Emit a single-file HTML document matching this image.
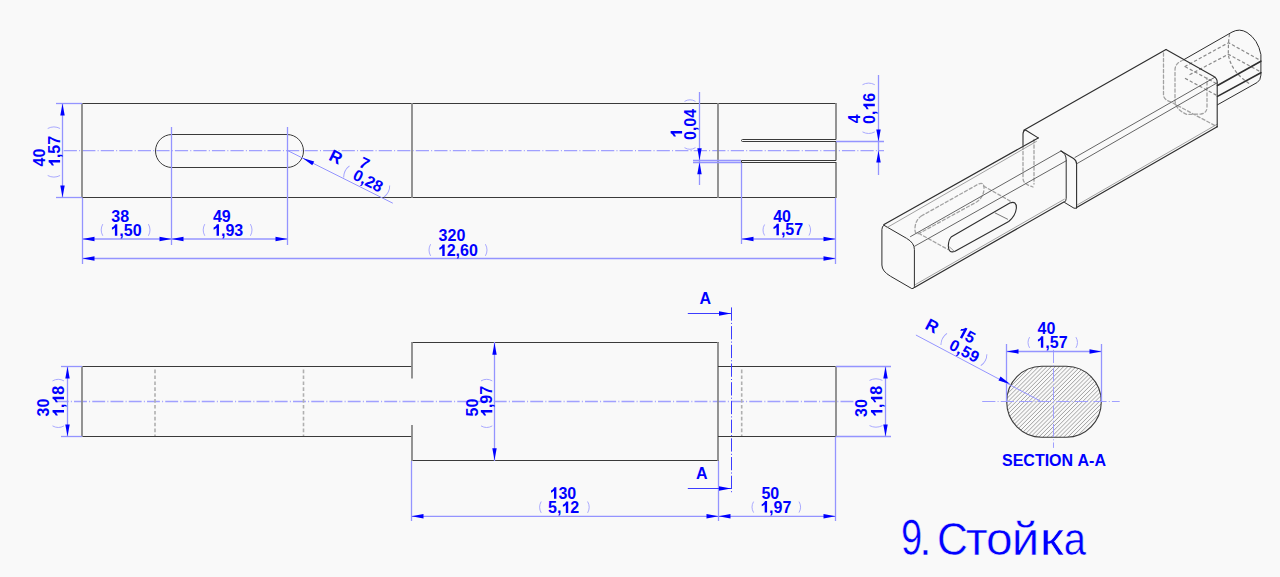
<!DOCTYPE html>
<html><head><meta charset="utf-8"><title>Стойка</title>
<style>
html,body{margin:0;padding:0;background:#f9f9f9;}
body{width:1280px;height:577px;overflow:hidden;}
svg{display:block;font-family:"Liberation Sans",sans-serif;font-kerning:none;}
</style></head>
<body>
<svg width="1280" height="577" viewBox="0 0 1280 577">
<rect width="1280" height="577" fill="#f9f9f9"/>
<line x1="63.7" y1="150.6" x2="884" y2="150.6" stroke="#a0a0ff" stroke-width="1.35" stroke-dasharray="13.2 2.2 1 2.13"/>
<line x1="82" y1="103.5" x2="836" y2="103.5" stroke="#3a3a3a" stroke-width="1" />
<line x1="82" y1="197.5" x2="836" y2="197.5" stroke="#3a3a3a" stroke-width="1" />
<line x1="82" y1="103" x2="82" y2="198" stroke="#888888" stroke-width="1.8" />
<line x1="836" y1="103" x2="836" y2="139.5" stroke="#888888" stroke-width="1.8" />
<line x1="836" y1="141" x2="836" y2="160.5" stroke="#888888" stroke-width="1.8" />
<line x1="836" y1="162" x2="836" y2="198" stroke="#888888" stroke-width="1.8" />
<line x1="412" y1="103" x2="412" y2="198" stroke="#888888" stroke-width="1.8" />
<line x1="718" y1="103" x2="718" y2="198" stroke="#888888" stroke-width="1.8" />
<rect x="155.5" y="134.5" width="148" height="33" rx="16.5" fill="none" stroke="#3a3a3a" stroke-width="1"/>
<path d="M836,139.5 L742.5,139.5 A1,1 0 0 0 742.5,141.5 L836,141.5" fill="none" stroke="#3a3a3a" stroke-width="1"/>
<path d="M836,160.5 L741.5,160.5 L741.5,162.5 L836,162.5" fill="none" stroke="#3a3a3a" stroke-width="1"/>
<line x1="56" y1="103.5" x2="82" y2="103.5" stroke="#9494ff" stroke-width="1.3" />
<line x1="56" y1="197.5" x2="82" y2="197.5" stroke="#9494ff" stroke-width="1.3" />
<line x1="62.5" y1="103" x2="62.5" y2="198" stroke="#9494ff" stroke-width="1.3" />
<polygon points="62.50,103.50 64.70,115.50 60.30,115.50" fill="#0000ff"/>
<polygon points="62.50,197.50 60.30,185.50 64.70,185.50" fill="#0000ff"/>
<line x1="82.5" y1="198" x2="82.5" y2="264" stroke="#9494ff" stroke-width="1.3" />
<line x1="171.5" y1="127" x2="171.5" y2="245" stroke="#9494ff" stroke-width="1.3" />
<line x1="287.5" y1="127" x2="287.5" y2="245" stroke="#9494ff" stroke-width="1.3" />
<line x1="741.5" y1="163" x2="741.5" y2="244" stroke="#9494ff" stroke-width="1.3" />
<line x1="835.5" y1="198" x2="835.5" y2="264" stroke="#9494ff" stroke-width="1.3" />
<line x1="82" y1="239.0" x2="288" y2="239.0" stroke="#9494ff" stroke-width="1.3" />
<line x1="741" y1="239.0" x2="836" y2="239.0" stroke="#9494ff" stroke-width="1.3" />
<line x1="82" y1="258.5" x2="836" y2="258.5" stroke="#9494ff" stroke-width="1.3" />
<polygon points="82.50,239.00 94.50,236.80 94.50,241.20" fill="#0000ff"/>
<polygon points="171.50,239.00 159.50,241.20 159.50,236.80" fill="#0000ff"/>
<polygon points="171.50,239.00 183.50,236.80 183.50,241.20" fill="#0000ff"/>
<polygon points="287.50,239.00 275.50,241.20 275.50,236.80" fill="#0000ff"/>
<polygon points="741.50,239.00 753.50,236.80 753.50,241.20" fill="#0000ff"/>
<polygon points="835.50,239.00 823.50,241.20 823.50,236.80" fill="#0000ff"/>
<polygon points="82.50,258.50 94.50,256.30 94.50,260.70" fill="#0000ff"/>
<polygon points="835.50,258.50 823.50,260.70 823.50,256.30" fill="#0000ff"/>
<line x1="699.5" y1="92" x2="699.5" y2="185" stroke="#9494ff" stroke-width="1.3" />
<line x1="693" y1="160.5" x2="741" y2="160.5" stroke="#9494ff" stroke-width="1.3" />
<line x1="693" y1="162.5" x2="741" y2="162.5" stroke="#9494ff" stroke-width="1.3" />
<polygon points="699.50,160.20 697.30,148.20 701.70,148.20" fill="#0000ff"/>
<polygon points="699.50,162.30 701.70,174.30 697.30,174.30" fill="#0000ff"/>
<line x1="878.5" y1="75" x2="878.5" y2="175" stroke="#9494ff" stroke-width="1.3" />
<line x1="836" y1="141.5" x2="884" y2="141.5" stroke="#9494ff" stroke-width="1.3" />
<polygon points="878.50,141.50 876.30,129.50 880.70,129.50" fill="#0000ff"/>
<polygon points="878.50,150.60 880.70,162.60 876.30,162.60" fill="#0000ff"/>
<line x1="287.7" y1="150.6" x2="392.8" y2="203.2" stroke="#9494ff" stroke-width="1" />
<polygon points="302.50,158.00 314.22,161.40 312.25,165.33" fill="#0000ff"/>
<text x="111.3" y="221.6" font-size="16" font-weight="bold" fill="#0000ff" >38</text>
<g transform="translate(110.4,235.8)"><path transform="translate(0.000,0) scale(16)" d="M0.43,-0.716 L0.43,0 L0.28,0 L0.28,-0.50 C0.22,-0.445 0.15,-0.405 0.095,-0.385 L0.095,-0.515 C0.19,-0.555 0.265,-0.63 0.30,-0.716 Z" fill="#0000ff"/><text x="8.896" y="0" font-size="16" font-weight="bold" fill="#0000ff">,50</text></g>
<path d="M102.8,224.1 Q99.60000000000001,229.95 102.8,235.8" fill="none" stroke="#a0a0ff" stroke-width="0.9"/>
<path d="M148.4,224.1 Q151.6,229.95 148.4,235.8" fill="none" stroke="#a0a0ff" stroke-width="0.9"/>
<text x="212.9" y="221.6" font-size="16" font-weight="bold" fill="#0000ff" >49</text>
<g transform="translate(212.1,235.8)"><path transform="translate(0.000,0) scale(16)" d="M0.43,-0.716 L0.43,0 L0.28,0 L0.28,-0.50 C0.22,-0.445 0.15,-0.405 0.095,-0.385 L0.095,-0.515 C0.19,-0.555 0.265,-0.63 0.30,-0.716 Z" fill="#0000ff"/><text x="8.896" y="0" font-size="16" font-weight="bold" fill="#0000ff">,93</text></g>
<path d="M204.79999999999998,224.1 Q201.6,229.95 204.79999999999998,235.8" fill="none" stroke="#a0a0ff" stroke-width="0.9"/>
<path d="M250.4,224.1 Q253.6,229.95 250.4,235.8" fill="none" stroke="#a0a0ff" stroke-width="0.9"/>
<text x="438.6" y="241.4" font-size="16" font-weight="bold" fill="#0000ff" >320</text>
<g transform="translate(437.8,255.9)"><path transform="translate(0.000,0) scale(16)" d="M0.43,-0.716 L0.43,0 L0.28,0 L0.28,-0.50 C0.22,-0.445 0.15,-0.405 0.095,-0.385 L0.095,-0.515 C0.19,-0.555 0.265,-0.63 0.30,-0.716 Z" fill="#0000ff"/><text x="8.896" y="0" font-size="16" font-weight="bold" fill="#0000ff">2,60</text></g>
<path d="M430.6,244.2 Q427.4,250.05 430.6,255.9" fill="none" stroke="#a0a0ff" stroke-width="0.9"/>
<path d="M485.4,244.2 Q488.59999999999997,250.05 485.4,255.9" fill="none" stroke="#a0a0ff" stroke-width="0.9"/>
<text x="773.2" y="222" font-size="16" font-weight="bold" fill="#0000ff" >40</text>
<g transform="translate(772.0,235.2)"><path transform="translate(0.000,0) scale(16)" d="M0.43,-0.716 L0.43,0 L0.28,0 L0.28,-0.50 C0.22,-0.445 0.15,-0.405 0.095,-0.385 L0.095,-0.515 C0.19,-0.555 0.265,-0.63 0.30,-0.716 Z" fill="#0000ff"/><text x="8.896" y="0" font-size="16" font-weight="bold" fill="#0000ff">,57</text></g>
<path d="M764.6,224.5 Q761.4,230.0 764.6,235.5" fill="none" stroke="#a0a0ff" stroke-width="0.9"/>
<path d="M809.0,224.5 Q812.2,230.0 809.0,235.5" fill="none" stroke="#a0a0ff" stroke-width="0.9"/>
<text transform="translate(45.1,166.5) rotate(-90)" font-size="16" font-weight="bold" fill="#0000ff" >40</text>
<g transform="translate(60.1,167.0) rotate(-90)"><path transform="translate(0.000,0) scale(16)" d="M0.43,-0.716 L0.43,0 L0.28,0 L0.28,-0.50 C0.22,-0.445 0.15,-0.405 0.095,-0.385 L0.095,-0.515 C0.19,-0.555 0.265,-0.63 0.30,-0.716 Z" fill="#0000ff"/><text x="8.896" y="0" font-size="16" font-weight="bold" fill="#0000ff">,57</text></g>
<path d="M47.7,175.5 Q53.900000000000006,178.7 60.1,175.5" fill="none" stroke="#a0a0ff" stroke-width="0.9"/>
<path d="M47.7,128.5 Q53.900000000000006,125.3 60.1,128.5" fill="none" stroke="#a0a0ff" stroke-width="0.9"/>
<g transform="translate(682.1,138.0) rotate(-90)"><path transform="translate(0.000,0) scale(16)" d="M0.43,-0.716 L0.43,0 L0.28,0 L0.28,-0.50 C0.22,-0.445 0.15,-0.405 0.095,-0.385 L0.095,-0.515 C0.19,-0.555 0.265,-0.63 0.30,-0.716 Z" fill="#0000ff"/></g>
<text transform="translate(695.5,140.0) rotate(-90)" font-size="16" font-weight="bold" fill="#0000ff" >0,04</text>
<path d="M684.5,147.70000000000002 Q690.0,150.9 695.5,147.70000000000002" fill="none" stroke="#a0a0ff" stroke-width="0.9"/>
<path d="M684.5,101.4 Q690.0,98.2 695.5,101.4" fill="none" stroke="#a0a0ff" stroke-width="0.9"/>
<text transform="translate(860.2,123.2) rotate(-90)" font-size="16" font-weight="bold" fill="#0000ff" >4</text>
<g transform="translate(874.8,124.0) rotate(-90)"><text x="0.000" y="0" font-size="16" font-weight="bold" fill="#0000ff">0,</text><path transform="translate(13.344,0) scale(16)" d="M0.43,-0.716 L0.43,0 L0.28,0 L0.28,-0.50 C0.22,-0.445 0.15,-0.405 0.095,-0.385 L0.095,-0.515 C0.19,-0.555 0.265,-0.63 0.30,-0.716 Z" fill="#0000ff"/><text x="22.240" y="0" font-size="16" font-weight="bold" fill="#0000ff">6</text></g>
<path d="M862.5,131.9 Q868.65,135.1 874.8,131.9" fill="none" stroke="#a0a0ff" stroke-width="0.9"/>
<path d="M862.5,84.7 Q868.65,81.5 874.8,84.7" fill="none" stroke="#a0a0ff" stroke-width="0.9"/>
<text transform="translate(327.7,159.4) rotate(26.6)" font-size="17" font-weight="bold" fill="#0000ff" >R</text>
<text transform="translate(358.0,166.2) rotate(26.6)" font-size="16" font-weight="bold" fill="#0000ff" >7</text>
<text transform="translate(351.7,178.8) rotate(26.6)" font-size="16" font-weight="bold" fill="#0000ff" >0,28</text>
<path transform="translate(345.4,171.0) rotate(26.6)" d="M1.3,-6.5 Q-1.9,0 1.3,6.5" fill="none" stroke="#a0a0ff" stroke-width="0.9"/>
<path transform="translate(388.0,192.0) rotate(26.6)" d="M-1.3,-6.5 Q1.9,0 -1.3,6.5" fill="none" stroke="#a0a0ff" stroke-width="0.9"/>
<line x1="55.75" y1="401.5" x2="857.4" y2="401.5" stroke="#a0a0ff" stroke-width="1.35" stroke-dasharray="12.9 2.2 1 2.15"/>
<line x1="82" y1="366.5" x2="412" y2="366.5" stroke="#3a3a3a" stroke-width="1" />
<line x1="82" y1="436.5" x2="412" y2="436.5" stroke="#3a3a3a" stroke-width="1" />
<line x1="82" y1="366" x2="82" y2="437" stroke="#888888" stroke-width="1.8" />
<line x1="412" y1="342.5" x2="719" y2="342.5" stroke="#3a3a3a" stroke-width="1" />
<line x1="412" y1="460.5" x2="719" y2="460.5" stroke="#3a3a3a" stroke-width="1" />
<line x1="412" y1="342" x2="412" y2="378.5" stroke="#888888" stroke-width="1.8" />
<line x1="412" y1="425" x2="412" y2="461" stroke="#888888" stroke-width="1.8" />
<line x1="718" y1="342" x2="718" y2="461" stroke="#888888" stroke-width="1.8" />
<line x1="718" y1="366.5" x2="836" y2="366.5" stroke="#3a3a3a" stroke-width="1" />
<line x1="718" y1="436.5" x2="836" y2="436.5" stroke="#3a3a3a" stroke-width="1" />
<line x1="836" y1="366" x2="836" y2="437" stroke="#888888" stroke-width="1.8" />
<line x1="155.0" y1="369.6" x2="155.0" y2="436" stroke="#b0b0b0" stroke-width="1.6" stroke-dasharray="3.6 2.3"/>
<line x1="303.5" y1="369.6" x2="303.5" y2="436" stroke="#b0b0b0" stroke-width="1.6" stroke-dasharray="3.6 2.3"/>
<line x1="741.7" y1="369.6" x2="741.7" y2="436" stroke="#b0b0b0" stroke-width="1.6" stroke-dasharray="3.6 2.3"/>
<line x1="61" y1="366.5" x2="82" y2="366.5" stroke="#9494ff" stroke-width="1.3" />
<line x1="61" y1="436.5" x2="82" y2="436.5" stroke="#9494ff" stroke-width="1.3" />
<line x1="67.5" y1="366" x2="67.5" y2="437" stroke="#9494ff" stroke-width="1.3" />
<polygon points="67.50,366.50 69.70,378.50 65.30,378.50" fill="#0000ff"/>
<polygon points="67.50,436.50 65.30,424.50 69.70,424.50" fill="#0000ff"/>
<line x1="494.5" y1="342" x2="494.5" y2="461" stroke="#9494ff" stroke-width="1.3" />
<polygon points="494.50,342.80 496.70,354.80 492.30,354.80" fill="#0000ff"/>
<polygon points="494.50,460.30 492.30,448.30 496.70,448.30" fill="#0000ff"/>
<line x1="836" y1="366.5" x2="891" y2="366.5" stroke="#9494ff" stroke-width="1.3" />
<line x1="836" y1="436.5" x2="891" y2="436.5" stroke="#9494ff" stroke-width="1.3" />
<line x1="885.5" y1="366" x2="885.5" y2="437" stroke="#9494ff" stroke-width="1.3" />
<polygon points="885.50,366.50 887.70,378.50 883.30,378.50" fill="#0000ff"/>
<polygon points="885.50,436.50 883.30,424.50 887.70,424.50" fill="#0000ff"/>
<line x1="411.5" y1="461" x2="411.5" y2="521" stroke="#9494ff" stroke-width="1.3" />
<line x1="718.5" y1="461" x2="718.5" y2="521" stroke="#9494ff" stroke-width="1.3" />
<line x1="835.5" y1="437" x2="835.5" y2="521" stroke="#9494ff" stroke-width="1.3" />
<line x1="412" y1="516.3" x2="836" y2="516.3" stroke="#9494ff" stroke-width="1.3" />
<polygon points="411.50,516.30 423.50,514.10 423.50,518.50" fill="#0000ff"/>
<polygon points="718.50,516.30 706.50,518.50 706.50,514.10" fill="#0000ff"/>
<polygon points="718.50,516.30 730.50,514.10 730.50,518.50" fill="#0000ff"/>
<polygon points="835.50,516.30 823.50,518.50 823.50,514.10" fill="#0000ff"/>
<line x1="731.5" y1="307.4" x2="731.5" y2="494" stroke="#3c3cff" stroke-width="1" stroke-dasharray="13.3 2.2 1 2.2"/>
<line x1="687.8" y1="313.5" x2="731" y2="313.5" stroke="#3c3cff" stroke-width="1" />
<polygon points="731.00,313.50 719.00,315.70 719.00,311.30" fill="#0000ff"/>
<line x1="687.8" y1="488.5" x2="731" y2="488.5" stroke="#3c3cff" stroke-width="1" />
<polygon points="731.00,488.50 719.00,490.70 719.00,486.30" fill="#0000ff"/>
<text x="699.6" y="303.7" font-size="16" font-weight="bold" fill="#0000ff" >A</text>
<text x="696.0" y="478.7" font-size="16" font-weight="bold" fill="#0000ff" >A</text>
<g transform="translate(549.5,498.8)"><path transform="translate(0.000,0) scale(16)" d="M0.43,-0.716 L0.43,0 L0.28,0 L0.28,-0.50 C0.22,-0.445 0.15,-0.405 0.095,-0.385 L0.095,-0.515 C0.19,-0.555 0.265,-0.63 0.30,-0.716 Z" fill="#0000ff"/><text x="8.896" y="0" font-size="16" font-weight="bold" fill="#0000ff">30</text></g>
<g transform="translate(548.0,512.9)"><text x="0.000" y="0" font-size="16" font-weight="bold" fill="#0000ff">5,</text><path transform="translate(13.344,0) scale(16)" d="M0.43,-0.716 L0.43,0 L0.28,0 L0.28,-0.50 C0.22,-0.445 0.15,-0.405 0.095,-0.385 L0.095,-0.515 C0.19,-0.555 0.265,-0.63 0.30,-0.716 Z" fill="#0000ff"/><text x="22.240" y="0" font-size="16" font-weight="bold" fill="#0000ff">2</text></g>
<path d="M541.2,501.5 Q538.0,507.2 541.2,512.9" fill="none" stroke="#a0a0ff" stroke-width="0.9"/>
<path d="M587.6,501.5 Q590.8000000000001,507.2 587.6,512.9" fill="none" stroke="#a0a0ff" stroke-width="0.9"/>
<text x="761.4" y="498.5" font-size="16" font-weight="bold" fill="#0000ff" >50</text>
<g transform="translate(760.2,512.5)"><path transform="translate(0.000,0) scale(16)" d="M0.43,-0.716 L0.43,0 L0.28,0 L0.28,-0.50 C0.22,-0.445 0.15,-0.405 0.095,-0.385 L0.095,-0.515 C0.19,-0.555 0.265,-0.63 0.30,-0.716 Z" fill="#0000ff"/><text x="8.896" y="0" font-size="16" font-weight="bold" fill="#0000ff">,97</text></g>
<path d="M753.6,501.6 Q750.4,507.1 753.6,512.6" fill="none" stroke="#a0a0ff" stroke-width="0.9"/>
<path d="M799.0,501.6 Q802.2,507.1 799.0,512.6" fill="none" stroke="#a0a0ff" stroke-width="0.9"/>
<text transform="translate(49.4,416.5) rotate(-90)" font-size="16" font-weight="bold" fill="#0000ff" >30</text>
<g transform="translate(64.0,417.0) rotate(-90)"><path transform="translate(0.000,0) scale(16)" d="M0.43,-0.716 L0.43,0 L0.28,0 L0.28,-0.50 C0.22,-0.445 0.15,-0.405 0.095,-0.385 L0.095,-0.515 C0.19,-0.555 0.265,-0.63 0.30,-0.716 Z" fill="#0000ff"/><text x="8.896" y="0" font-size="16" font-weight="bold" fill="#0000ff">,</text><path transform="translate(13.344,0) scale(16)" d="M0.43,-0.716 L0.43,0 L0.28,0 L0.28,-0.50 C0.22,-0.445 0.15,-0.405 0.095,-0.385 L0.095,-0.515 C0.19,-0.555 0.265,-0.63 0.30,-0.716 Z" fill="#0000ff"/><text x="22.240" y="0" font-size="16" font-weight="bold" fill="#0000ff">8</text></g>
<path d="M52.5,425.9 Q58.25,429.1 64.0,425.9" fill="none" stroke="#a0a0ff" stroke-width="0.9"/>
<path d="M52.5,380.9 Q58.25,377.7 64.0,380.9" fill="none" stroke="#a0a0ff" stroke-width="0.9"/>
<text transform="translate(477.8,416.5) rotate(-90)" font-size="16" font-weight="bold" fill="#0000ff" >50</text>
<g transform="translate(492.3,417.0) rotate(-90)"><path transform="translate(0.000,0) scale(16)" d="M0.43,-0.716 L0.43,0 L0.28,0 L0.28,-0.50 C0.22,-0.445 0.15,-0.405 0.095,-0.385 L0.095,-0.515 C0.19,-0.555 0.265,-0.63 0.30,-0.716 Z" fill="#0000ff"/><text x="8.896" y="0" font-size="16" font-weight="bold" fill="#0000ff">,97</text></g>
<path d="M481.0,425.9 Q486.65,429.1 492.3,425.9" fill="none" stroke="#a0a0ff" stroke-width="0.9"/>
<path d="M481.0,380.9 Q486.65,377.7 492.3,380.9" fill="none" stroke="#a0a0ff" stroke-width="0.9"/>
<text transform="translate(866.8,416.9) rotate(-90)" font-size="16" font-weight="bold" fill="#0000ff" >30</text>
<g transform="translate(882.4,417.0) rotate(-90)"><path transform="translate(0.000,0) scale(16)" d="M0.43,-0.716 L0.43,0 L0.28,0 L0.28,-0.50 C0.22,-0.445 0.15,-0.405 0.095,-0.385 L0.095,-0.515 C0.19,-0.555 0.265,-0.63 0.30,-0.716 Z" fill="#0000ff"/><text x="8.896" y="0" font-size="16" font-weight="bold" fill="#0000ff">,</text><path transform="translate(13.344,0) scale(16)" d="M0.43,-0.716 L0.43,0 L0.28,0 L0.28,-0.50 C0.22,-0.445 0.15,-0.405 0.095,-0.385 L0.095,-0.515 C0.19,-0.555 0.265,-0.63 0.30,-0.716 Z" fill="#0000ff"/><text x="22.240" y="0" font-size="16" font-weight="bold" fill="#0000ff">8</text></g>
<path d="M869.5,425.59999999999997 Q875.95,428.8 882.4,425.59999999999997" fill="none" stroke="#a0a0ff" stroke-width="0.9"/>
<path d="M869.5,380.4 Q875.95,377.2 882.4,380.4" fill="none" stroke="#a0a0ff" stroke-width="0.9"/>
<path d="M921.3,216 L978.4,184.1 Q984.5,181.5 984,189 Q983.5,197 977,201.8 L919,233.5 Q914.5,235 915,228 Q915.5,220 921.3,216 Z" fill="none" stroke="#a2a2a2" stroke-width="1.3" stroke-linejoin="round" stroke-linecap="round" stroke-dasharray="3.2 2.3"/>
<path d="M918.7,233.3 L948.5,249.8" fill="none" stroke="#a2a2a2" stroke-width="1.3" stroke-linejoin="round" stroke-linecap="round" stroke-dasharray="3.2 2.3"/>
<path d="M983.5,186 L1011,201.5" fill="none" stroke="#a2a2a2" stroke-width="1.3" stroke-linejoin="round" stroke-linecap="round" stroke-dasharray="3.2 2.3"/>
<path d="M1023,146 L1023,178 Q1023,183 1029,185.5 L1033,187" fill="none" stroke="#a2a2a2" stroke-width="1.3" stroke-linejoin="round" stroke-linecap="round" stroke-dasharray="3.2 2.3"/>
<path d="M1034,139.5 L1034,184" fill="none" stroke="#a2a2a2" stroke-width="1.3" stroke-linejoin="round" stroke-linecap="round" stroke-dasharray="3.2 2.3"/>
<path d="M1163.5,53 L1163.5,95 Q1164,100 1171,102 L1217,126.7" fill="none" stroke="#a2a2a2" stroke-width="1.3" stroke-linejoin="round" stroke-linecap="round" stroke-dasharray="3.2 2.3"/>
<path d="M1183.5,60 Q1175,63 1175,70 L1175,101 Q1176,110 1187,114.5 L1201,114 Q1207,113 1207,107 L1207,78" fill="none" stroke="#a2a2a2" stroke-width="1.3" stroke-linejoin="round" stroke-linecap="round" stroke-dasharray="3.2 2.3"/>
<path d="M1185,66.5 L1228.5,42.7 L1260,60.2" fill="none" stroke="#8a8a8a" stroke-width="1.2" stroke-linejoin="round" stroke-linecap="round" stroke-dasharray="2.4 3"/>
<path d="M1190,74.5 L1228.3,54.3 L1259,71" fill="none" stroke="#8a8a8a" stroke-width="1.2" stroke-linejoin="round" stroke-linecap="round" stroke-dasharray="2.4 3"/>
<path d="M1229.5,34.5 Q1228.3,40 1228.3,54.3 Q1231,72 1250.6,84.5" fill="none" stroke="#8a8a8a" stroke-width="1.2" stroke-linejoin="round" stroke-linecap="round" stroke-dasharray="2.4 3"/>
<path d="M1185.4,66.8 L1215.8,83.2" fill="none" stroke="#8a8a8a" stroke-width="1.2" stroke-linejoin="round" stroke-linecap="round" stroke-dasharray="2.4 3"/>
<path d="M1185.4,78.5 L1215.8,94.9" fill="none" stroke="#8a8a8a" stroke-width="1.2" stroke-linejoin="round" stroke-linecap="round" stroke-dasharray="2.4 3"/>
<path d="M884,225.3 L906.5,238.3 Q914.4,242.8 914.4,249.5 L914.4,286.5 Q914.2,289 911.8,288.6 L890.6,276.3 Q881.9,271.2 881.9,265 L881.9,229.5 Q882,225.6 884,225.3 Z" fill="none" stroke="#2e2e2e" stroke-width="1.0" stroke-linejoin="round" stroke-linecap="round" />
<path d="M884,224.6 L1038.2,137.9" fill="none" stroke="#2e2e2e" stroke-width="1.2" stroke-linejoin="round" stroke-linecap="round" />
<path d="M887,227.6 L1036.5,141.4" fill="none" stroke="#8a8a8a" stroke-width="0.8" stroke-linejoin="round" stroke-linecap="round" />
<path d="M910.5,236.6 L1061,151" fill="none" stroke="#555" stroke-width="0.9" stroke-linejoin="round" stroke-linecap="round" />
<path d="M914.5,246.3 L1066.2,160.8" fill="none" stroke="#555" stroke-width="0.9" stroke-linejoin="round" stroke-linecap="round" />
<path d="M914.4,287.4 L1064.3,201.8" fill="none" stroke="#2e2e2e" stroke-width="1.2" stroke-linejoin="round" stroke-linecap="round" />
<path d="M915.5,284.5 L1064.3,199.2" fill="none" stroke="#8a8a8a" stroke-width="0.8" stroke-linejoin="round" stroke-linecap="round" />
<path d="M951.5,236.7 L1009.8,203 Q1016.6,200.5 1016.4,208 Q1015.5,216 1008.7,221.5 L954.6,251.5 Q948.5,253.5 948.3,246 Q948.6,239.5 951.5,236.7 Z" fill="none" stroke="#2e2e2e" stroke-width="1.1" stroke-linejoin="round" stroke-linecap="round" />
<path d="M995.2,213 L1007.6,219.2" fill="none" stroke="#555" stroke-width="0.8" stroke-linejoin="round" stroke-linecap="round" />
<path d="M949.5,247 L954,251" fill="none" stroke="#777" stroke-width="0.7" stroke-linejoin="round" stroke-linecap="round" />
<path d="M1023,145.3 L1023,134 Q1023,130.8 1025.5,130 L1038.2,137.9" fill="none" stroke="#2e2e2e" stroke-width="1.1" stroke-linejoin="round" stroke-linecap="round" />
<path d="M1023.8,130.3 L1166,49.5" fill="none" stroke="#2e2e2e" stroke-width="1.2" stroke-linejoin="round" stroke-linecap="round" />
<path d="M1061,151 Q1066.2,153.5 1066.2,160 L1066.2,198.5 Q1066,201.5 1064.3,202.3 L1074,208.2 L1076.6,208.2" fill="none" stroke="#2e2e2e" stroke-width="1.0" stroke-linejoin="round" stroke-linecap="round" />
<path d="M1061,151 L1073.5,158.5 Q1076.6,160.5 1076.6,164 L1076.6,207.5" fill="none" stroke="#2e2e2e" stroke-width="1.1" stroke-linejoin="round" stroke-linecap="round" />
<path d="M1075,157.4 L1215,77.2" fill="none" stroke="#555" stroke-width="0.9" stroke-linejoin="round" stroke-linecap="round" />
<path d="M1077,163.6 L1217.2,82.8" fill="none" stroke="#555" stroke-width="0.9" stroke-linejoin="round" stroke-linecap="round" />
<path d="M1076.6,207.6 L1217.2,126.7" fill="none" stroke="#2e2e2e" stroke-width="1.2" stroke-linejoin="round" stroke-linecap="round" />
<path d="M1077.5,204.8 L1217.2,124.2" fill="none" stroke="#8a8a8a" stroke-width="0.8" stroke-linejoin="round" stroke-linecap="round" />
<path d="M1166,49.5 L1213.5,76.3 Q1217.2,78.5 1217.2,82 L1217.2,126.7" fill="none" stroke="#2e2e2e" stroke-width="1.1" stroke-linejoin="round" stroke-linecap="round" />
<path d="M1184.3,59.4 L1232,32.1 Q1239.5,28 1247,32.5 Q1258,39.5 1260.9,54.5 L1260.9,75.2 Q1260.5,80.5 1257.3,82.4 L1217.5,104.8" fill="none" stroke="#2e2e2e" stroke-width="1.0" stroke-linejoin="round" stroke-linecap="round" />
<path d="M1217.5,85.5 L1260.9,61.2" fill="none" stroke="#2e2e2e" stroke-width="1.6" stroke-linejoin="round" stroke-linecap="round" />
<path d="M1217.5,96.4 L1260.9,72.7" fill="none" stroke="#2e2e2e" stroke-width="1.6" stroke-linejoin="round" stroke-linecap="round" />
<defs><clipPath id="secclip"><rect x="1006.7" y="366.2" width="94.6" height="71" rx="35" ry="35.5"/></clipPath></defs>
<path d="M957.05,440 L1037.05,360 M961.20,440 L1041.20,360 M965.35,440 L1045.35,360 M969.50,440 L1049.50,360 M973.65,440 L1053.65,360 M977.80,440 L1057.80,360 M981.95,440 L1061.95,360 M986.10,440 L1066.10,360 M990.25,440 L1070.25,360 M994.40,440 L1074.40,360 M998.55,440 L1078.55,360 M1002.70,440 L1082.70,360 M1006.85,440 L1086.85,360 M1011.00,440 L1091.00,360 M1015.15,440 L1095.15,360 M1019.30,440 L1099.30,360 M1023.45,440 L1103.45,360 M1027.60,440 L1107.60,360 M1031.75,440 L1111.75,360 M1035.90,440 L1115.90,360 M1040.05,440 L1120.05,360 M1044.20,440 L1124.20,360 M1048.35,440 L1128.35,360 M1052.50,440 L1132.50,360 M1056.65,440 L1136.65,360 M1060.80,440 L1140.80,360 M1064.95,440 L1144.95,360 M1069.10,440 L1149.10,360 M1073.25,440 L1153.25,360 M1077.40,440 L1157.40,360 M1081.55,440 L1161.55,360 M1085.70,440 L1165.70,360 M1089.85,440 L1169.85,360 M1094.00,440 L1174.00,360 M1098.15,440 L1178.15,360 M1102.30,440 L1182.30,360 M1106.45,440 L1186.45,360 M1110.60,440 L1190.60,360 M1114.75,440 L1194.75,360 M1118.90,440 L1198.90,360 M1123.05,440 L1203.05,360 M1127.20,440 L1207.20,360 M1131.35,440 L1211.35,360 M1135.50,440 L1215.50,360 M1139.65,440 L1219.65,360 M1143.80,440 L1223.80,360 M1147.95,440 L1227.95,360 M1152.10,440 L1232.10,360 M1156.25,440 L1236.25,360" stroke="#8a8a8a" stroke-width="0.8" fill="none" clip-path="url(#secclip)"/>
<rect x="1006.7" y="366.2" width="94.6" height="71" rx="35" ry="35.5" fill="none" stroke="#3a3a3a" stroke-width="1.1"/>
<line x1="982.2" y1="401.5" x2="1119.7" y2="401.5" stroke="#a0a0ff" stroke-width="1" stroke-dasharray="13.2 2.2 1 2.13"/>
<line x1="1053.5" y1="349.8" x2="1053.5" y2="447.9" stroke="#a0a0ff" stroke-width="1" stroke-dasharray="13.2 2.2 1 2.13"/>
<line x1="1006.5" y1="344" x2="1006.5" y2="402" stroke="#9494ff" stroke-width="1.3" />
<line x1="1101.5" y1="344" x2="1101.5" y2="402" stroke="#9494ff" stroke-width="1.3" />
<line x1="1006" y1="351.5" x2="1102" y2="351.5" stroke="#9494ff" stroke-width="1.3" />
<polygon points="1006.50,351.50 1018.50,349.30 1018.50,353.70" fill="#0000ff"/>
<polygon points="1101.50,351.50 1089.50,353.70 1089.50,349.30" fill="#0000ff"/>
<text x="1037.6" y="333.6" font-size="16" font-weight="bold" fill="#0000ff" >40</text>
<g transform="translate(1036.4,347.7)"><path transform="translate(0.000,0) scale(16)" d="M0.43,-0.716 L0.43,0 L0.28,0 L0.28,-0.50 C0.22,-0.445 0.15,-0.405 0.095,-0.385 L0.095,-0.515 C0.19,-0.555 0.265,-0.63 0.30,-0.716 Z" fill="#0000ff"/><text x="8.896" y="0" font-size="16" font-weight="bold" fill="#0000ff">,57</text></g>
<path d="M1029.6,337.1 Q1026.4,342.5 1029.6,347.9" fill="none" stroke="#a0a0ff" stroke-width="0.9"/>
<path d="M1075.9,337.1 Q1079.1000000000001,342.5 1075.9,347.9" fill="none" stroke="#a0a0ff" stroke-width="0.9"/>
<line x1="915.9" y1="335" x2="1040.3" y2="401" stroke="#9494ff" stroke-width="1" />
<polygon points="1010.10,384.10 998.47,380.41 1000.53,376.53" fill="#0000ff"/>
<text transform="translate(924.1,328.3) rotate(28)" font-size="17" font-weight="bold" fill="#0000ff" >R</text>
<g transform="translate(956.0,335.5) rotate(28)"><path transform="translate(0.000,0) scale(16)" d="M0.43,-0.716 L0.43,0 L0.28,0 L0.28,-0.50 C0.22,-0.445 0.15,-0.405 0.095,-0.385 L0.095,-0.515 C0.19,-0.555 0.265,-0.63 0.30,-0.716 Z" fill="#0000ff"/><text x="8.896" y="0" font-size="16" font-weight="bold" fill="#0000ff">5</text></g>
<text transform="translate(948.0,348.5) rotate(28)" font-size="16" font-weight="bold" fill="#0000ff" >0,59</text>
<path transform="translate(942.8,338.6) rotate(28)" d="M1.3,-6.5 Q-1.9,0 1.3,6.5" fill="none" stroke="#a0a0ff" stroke-width="0.9"/>
<path transform="translate(985.0,360.5) rotate(28)" d="M-1.3,-6.5 Q1.9,0 -1.3,6.5" fill="none" stroke="#a0a0ff" stroke-width="0.9"/>
<text x="1002.0" y="466.1" font-size="16" font-weight="bold" fill="#0000ff" >SECTION A-A</text>
<text transform="translate(900.9,554.5) scale(0.77,1)" font-size="49.5" font-weight="normal" fill="#0000ff" stroke="#f9f9f9" stroke-width="0.5">9</text>
<text transform="translate(919.0,554.5) scale(1.0,1)" font-size="46" font-weight="normal" fill="#0000ff" stroke="#f9f9f9" stroke-width="0.5">.</text>
<text transform="translate(936.9,554.5) scale(0.912,1)" font-size="47" font-weight="normal" fill="#0000ff" stroke="#f9f9f9" stroke-width="0.5">С</text>
<text transform="translate(965.8,554.5) scale(1.04,1)" font-size="46" font-weight="normal" fill="#0000ff" stroke="#f9f9f9" stroke-width="0.5">т</text>
<text transform="translate(986.0,554.5) scale(1.043,1)" font-size="46" font-weight="normal" fill="#0000ff" stroke="#f9f9f9" stroke-width="0.5">о</text>
<text transform="translate(1011.85,554.5) scale(1.071,1)" font-size="46" font-weight="normal" fill="#0000ff" stroke="#f9f9f9" stroke-width="0.5">й</text>
<text transform="translate(1039.6,554.5) scale(1.21,1)" font-size="46" font-weight="normal" fill="#0000ff" stroke="#f9f9f9" stroke-width="0.5">к</text>
<text transform="translate(1063.8,554.5) scale(0.87,1)" font-size="46" font-weight="normal" fill="#0000ff" stroke="#f9f9f9" stroke-width="0.5">а</text>
</svg>
</body></html>
